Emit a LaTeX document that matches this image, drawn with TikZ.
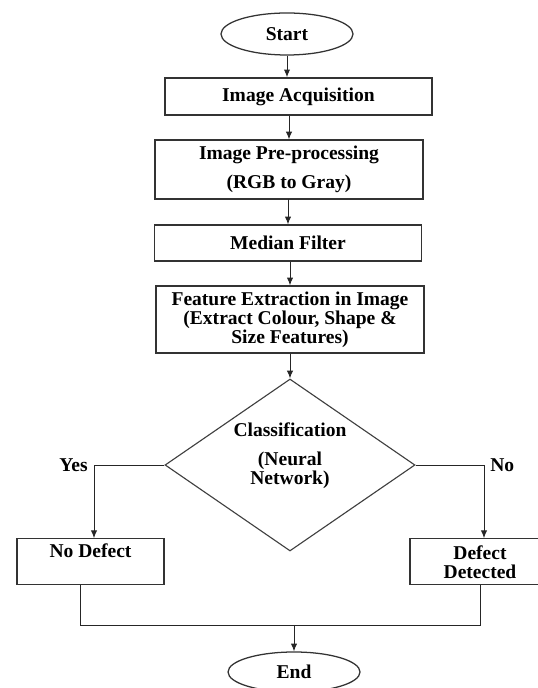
\documentclass[tikz,border=0pt]{standalone}
\usepackage{fontspec}
\setmainfont{Liberation Serif}
\usetikzlibrary{shapes.geometric,positioning,arrows.meta}

\tikzset{
  terminal/.style={draw=black!80, ellipse, line width=0.9pt, minimum width=3.3cm, minimum height=1.05cm, inner sep=0pt},
  process/.style={draw=black!80, rectangle, line width=0.9pt, minimum width=6.7cm, align=center, inner sep=0pt},
  decision/.style={draw=black!75, diamond, line width=0.8pt, minimum width=6.25cm, minimum height=4.3cm, inner sep=0pt},
  result/.style={draw=black!80, rectangle, line width=0.9pt, minimum height=1.15cm, align=center, inner sep=0pt},
  flow/.style={->, line width=0.7pt, black!85},
}

\begin{document}
\begin{tikzpicture}[>={Latex[length=5.5pt,width=4.5pt]}, font=\bfseries\fontsize{13.9}{13.6}\selectfont]
    \useasboundingbox (0,0) rectangle (13.45,17.2);
    \node[terminal] (start) at (7.175,16.35) {Start};
    \node[process, minimum width=6.675cm, minimum height=0.925cm] (acquire) at (7.46,14.79) {Image Acquisition};
    \node[process, minimum height=1.475cm] (preproc) at (7.225,12.96) {Image Pre-processing\\[7pt](RGB to Gray)};
    \node[process, minimum width=6.675cm, minimum height=0.9cm] (median) at (7.2,11.125) {Median Filter};
    \node[process, minimum height=1.675cm] (feature) at (7.25,9.2125) {Feature Extraction in Image\\(Extract Colour, Shape \&\\Size Features)};
    \node[decision] (classify) at (7.25,5.575) {};
    \node[align=center] (classtext) at (7.25,5.8) {Classification\\[7pt](Neural\\Network)};
    \node[result, minimum width=3.675cm, text depth=0.55cm] (nodefect) at (2.2625,3.155) {No Defect};
    \node[result, minimum width=3.5cm] (defect) at (12.0,3.155) {Defect\\Detected};
    \node[terminal, minimum height=1.0cm] (finish) at (7.35,0.4) {End};
    \coordinate (yes) at (2.35,5.575);
    \coordinate (no) at (12.1,5.575);
    \coordinate (leftdrop) at (2.0,1.575);
    \node[left=1pt of yes] (yeslabel) {Yes};
    \node[right=1pt of no] (nolabel) {No};
    \draw[flow] (start.south) -- (start.south |- acquire.north);
    \draw[flow] (preproc.north |- acquire.south) -- (preproc.north);
    \draw[flow] (preproc.south) -- (preproc.south -| median.north) -- (median.north);
    \draw[flow] (feature.north |- median.south) -- (feature.north);
    \draw[flow] (feature.south) -- (classify.north);
    \draw[flow] (classify.west) -- (yes) -- (yes |- nodefect.north);
    \draw[flow] (classify.east) -- (no) -- (no |- defect.north);
    \draw[line width=0.7pt, black!85] (leftdrop |- nodefect.south) -- (leftdrop) -- (leftdrop -| defect.south) -- (defect.south);
    \draw[flow] (finish.north |- leftdrop) -- (finish.north);
\end{tikzpicture}
\end{document}
